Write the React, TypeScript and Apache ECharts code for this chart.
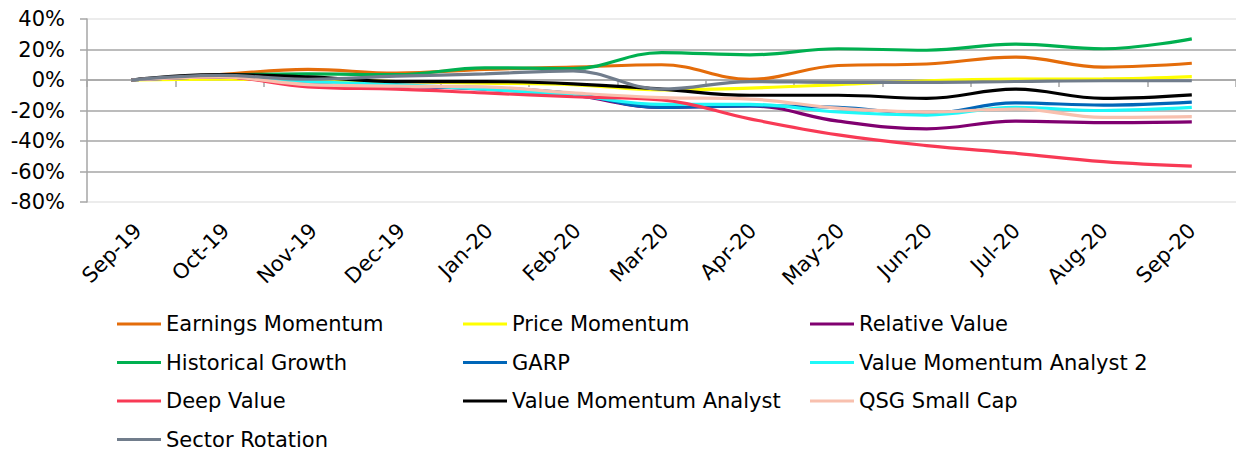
import React, { useEffect, useRef } from "react";
import * as echarts from "echarts";

const categories = ["Sep-19", "Oct-19", "Nov-19", "Dec-19", "Jan-20", "Feb-20", "Mar-20", "Apr-20", "May-20", "Jun-20", "Jul-20", "Aug-20", "Sep-20"];

const earningsMomentum = [0, 3.5, 7, 4.5, 7, 8.5, 10, 0.5, 9.5, 10.5, 15, 8.5, 11];
const priceMomentum = [0, 0.5, 0, -1, -2, -3, -6.5, -5.3, -3, -0.5, 0.6, 0.7, 2.2];
const relativeValue = [0, 2, -3, -4, -6, -10, -18, -17, -27, -32, -27, -28, -27.5];
const historicalGrowth = [0, 3, 4, 3.5, 8, 7.5, 18, 16.5, 20.5, 19.5, 23.5, 20.5, 27];
const garp = [0, 2, -2, -4, -5, -9, -18, -17, -18, -22, -15, -16.5, -14.5];
const valueMomentumAnalyst2 = [0, 2, -1, -3, -6, -10, -16, -16, -21, -23, -18, -20, -18];
const deepValue = [0, 2, -4.5, -6, -8.5, -11, -13, -25.5, -36, -43, -48, -53.5, -56.5];
const valueMomentumAnalyst = [0, 3.5, 2, -1, -1, -2.5, -6, -10, -10, -12, -6, -12, -9.7];
const qsgSmallCap = [0, 2, -3, -4, -4.5, -8.5, -11.5, -12.5, -18.5, -21, -19, -24.5, -24];
const sectorRotation = [0, 3, 0.5, 2.5, 4, 6, -6, -1, -1.5, -1.5, -1, -0.5, -0.5];

const yTicks = { min: -80, max: 40, interval: 20 };

const seriesDefs = [
  { name: "Earnings Momentum", data: earningsMomentum, color: "#E46C0A" },
  { name: "Price Momentum", data: priceMomentum, color: "#FFFF00" },
  { name: "Relative Value", data: relativeValue, color: "#800070" },
  { name: "Historical Growth", data: historicalGrowth, color: "#00B050" },
  { name: "GARP", data: garp, color: "#0066B8" },
  { name: "Value Momentum Analyst 2", data: valueMomentumAnalyst2, color: "#1FF8F8" },
  { name: "Deep Value", data: deepValue, color: "#F83A55" },
  { name: "Value Momentum Analyst", data: valueMomentumAnalyst, color: "#000000" },
  { name: "QSG Small Cap", data: qsgSmallCap, color: "#F8C0AE" },
  { name: "Sector Rotation", data: sectorRotation, color: "#717D8C" },
];

const legendCols = [
  ["Earnings Momentum", "Historical Growth", "Deep Value", "Sector Rotation"],
  ["Price Momentum", "GARP", "Value Momentum Analyst"],
  ["Relative Value", "Value Momentum Analyst 2", "QSG Small Cap"],
];

const FONT = "DejaVu Sans";

export default function App() {
  const ref = useRef<HTMLDivElement>(null);
  useEffect(() => {
    document.body.style.margin = "0";
    if (!ref.current) return;
    const chart = echarts.init(ref.current, null, { renderer: "svg" });
    const legendLefts = [117, 463, 810];
    const gridLeft = 87;
    const gridWidth = 1161;
    const gridTop = 19;
    const gridHeight = 183;
    chart.setOption({
      animation: false,
      backgroundColor: "#ffffff",
      textStyle: { fontFamily: FONT },
      grid: [
        { left: gridLeft, top: gridTop, width: gridWidth, height: gridHeight },
        { left: gridLeft + 7, top: gridTop, width: gridWidth, height: gridHeight },
      ],
      legend: legendCols.map((col, i) => ({
        orient: "vertical",
        left: legendLefts[i],
        top: 313.5,
        height: 200,
        padding: 0,
        data: col,
        icon: "rect",
        itemWidth: 44,
        itemHeight: 3,
        itemGap: 17.5,
        selectedMode: false,
        textStyle: { fontFamily: FONT, fontSize: 21, color: "#000", lineHeight: 21 },
      })),
      xAxis: [
        {
          type: "category",
          gridIndex: 0,
          data: categories,
          boundaryGap: true,
          position: "bottom",
          axisLine: { show: true, onZero: true, lineStyle: { color: "#A6A6A6", width: 1.5 } },
          axisTick: { show: true, length: 7, alignWithLabel: false, lineStyle: { color: "#A6A6A6", width: 1.5 } },
          axisLabel: { show: false },
          splitLine: { show: false },
        },
        {
          type: "category",
          gridIndex: 1,
          data: categories,
          boundaryGap: true,
          position: "bottom",
          axisLine: { show: false, onZero: false },
          axisTick: { show: false },
          axisLabel: {
            show: true,
            rotate: 45,
            margin: 25,
            fontFamily: FONT,
            fontSize: 21,
            color: "#000",
          },
          splitLine: { show: false },
        },
      ],
      yAxis: [
        {
          type: "value",
          gridIndex: 0,
          min: yTicks.min,
          max: yTicks.max,
          interval: yTicks.interval,
          axisLine: { show: true, lineStyle: { color: "#A6A6A6", width: 1.5 } },
          axisTick: { show: true, length: 7, lineStyle: { color: "#A6A6A6", width: 1.5 } },
          axisLabel: {
            formatter: "{value}%",
            margin: 22,
            fontFamily: FONT,
            fontSize: 21,
            color: "#000",
          },
          splitLine: {
            show: true,
            lineStyle: {
              color: ["#E6E6E6", "#A6A6A6", "#A6A6A6", "#A6A6A6", "#A6A6A6", "#A6A6A6", "#E6E6E6"],
              width: 1.5,
            },
          },
        },
        {
          type: "value",
          gridIndex: 1,
          min: yTicks.min,
          max: yTicks.max,
          interval: yTicks.interval,
          show: false,
          splitLine: { show: false },
        },
      ],
      series: seriesDefs.map((s) => ({
        name: s.name,
        type: "line",
        xAxisIndex: 0,
        yAxisIndex: 0,
        data: s.data,
        smooth: 0.4,
        showSymbol: false,
        symbol: "none",
        color: s.color,
        lineStyle: { color: s.color, width: 3.2 },
      })),
    });
    return () => chart.dispose();
  }, []);
  return <div ref={ref} style={{ width: 1236, height: 450 }} />;
}
